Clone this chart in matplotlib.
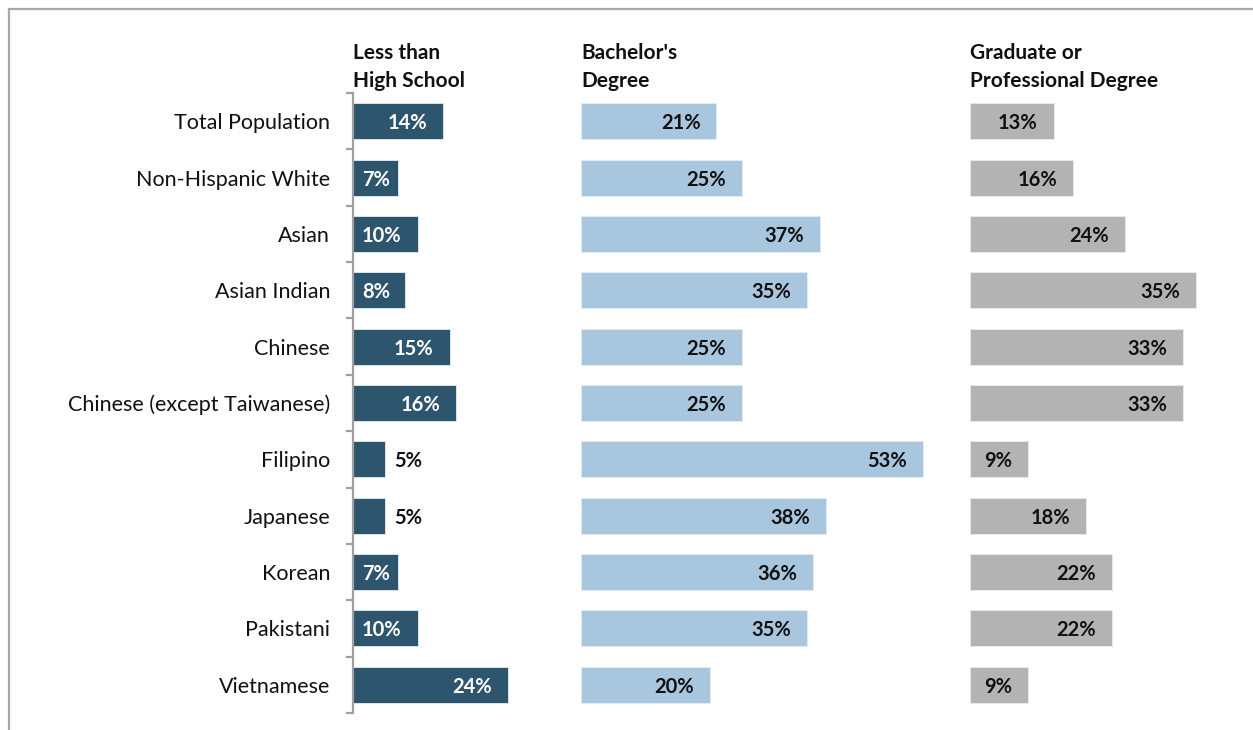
import matplotlib
matplotlib.use("Agg")
import matplotlib.pyplot as plt
from matplotlib.lines import Line2D
from matplotlib.transforms import offset_copy

plt.rcParams['font.family'] = ['Lato', 'DejaVu Sans']

groups = ["Total Population", "Non-Hispanic White", "Asian", "Asian Indian",
          "Chinese", "Chinese (except Taiwanese)", "Filipino", "Japanese",
          "Korean", "Pakistani", "Vietnamese"]

less_than_hs = [14, 7, 10, 8, 15, 16, 5, 5, 7, 10, 24]
bachelors = [21, 25, 37, 35, 25, 25, 53, 38, 36, 35, 20]
graduate = [13, 16, 24, 35, 33, 33, 9, 18, 22, 22, 9]

titles = ["Less than\nHigh School", "Bachelor's\nDegree", "Graduate or\nProfessional Degree"]

W, H = 1253, 730
fig = plt.figure(figsize=(W / 100, H / 100), dpi=100)

# pixels per percentage point, same in all three panels
scale = 6.45
top_px, bot_px = 93, 713
panels = [
    (353, 205, less_than_hs, "#2E556E", "white"),
    (581, 375, bachelors, "#A9C6DF", "#111111"),
    (970, 283, graduate, "#B3B3B3", "#111111"),
]
val_fs = 14.5

fig.canvas.draw()
renderer = fig.canvas.get_renderer()

axes = []
for k, (left_px, width_px, vals, col, txtcol) in enumerate(panels):
    ax = fig.add_axes([left_px / W, (H - bot_px) / H, width_px / W, (bot_px - top_px) / H])
    axes.append(ax)
    y = list(range(len(groups)))
    ax.barh(y, vals, height=0.64, color=col, edgecolor="#e6edf2", linewidth=0.6)
    ax.set_xlim(0, width_px / scale)
    ax.set_ylim(len(groups) - 0.5, -0.5)
    ax.set_xticks([])
    for s in ["top", "right", "bottom"]:
        ax.spines[s].set_visible(False)
    if k == 0:
        ax.spines["left"].set_color("#a0a0a0")
        ax.spines["left"].set_linewidth(1.6)
        ax.set_yticks(y)
        ax.set_yticklabels(groups, fontsize=15.5, color="#111111")
        ax.tick_params(axis="y", which="major", length=0, pad=16.5)
        ax.set_yticks([i - 0.5 for i in range(len(groups) + 1)], minor=True)
        ax.tick_params(axis="y", which="minor", length=5, width=1.6, color="#a0a0a0")
    else:
        ax.spines["left"].set_visible(False)
        ax.set_yticks([])

    ax.text(0, 1.0 + 50 / (bot_px - top_px), titles[k], transform=ax.transAxes,
            ha="left", va="top", fontsize=15, fontweight="bold",
            color="#111111", linespacing=1.5)

    # value labels: inside the bar end, pushed right for short bars, outside if too narrow
    for i, v in enumerate(vals):
        label = f"{v}%"
        probe = ax.text(0, i, label, fontsize=val_fs, fontweight="bold")
        w = probe.get_window_extent(renderer).width
        probe.remove()
        bar_px = v * scale
        color = txtcol
        if bar_px - w < 12:
            x0 = bar_px + 9
            color = "#111111"
        else:
            x0 = max(bar_px - 16 - w, 9)
        tr = offset_copy(ax.transData, fig=fig, x=x0, y=0, units="dots")
        ax.text(0, i, label, transform=tr, ha="left", va="center_baseline",
                fontsize=val_fs, fontweight="bold", color=color)

# outer frame
fig.add_artist(Line2D([9 / W, 1], [1 - 9 / H, 1 - 9 / H], color="#a6a6a6", lw=1.6))
fig.add_artist(Line2D([9 / W, 9 / W], [0, 1 - 9 / H], color="#a6a6a6", lw=1.6))

fig.savefig("out.png", dpi=100)
